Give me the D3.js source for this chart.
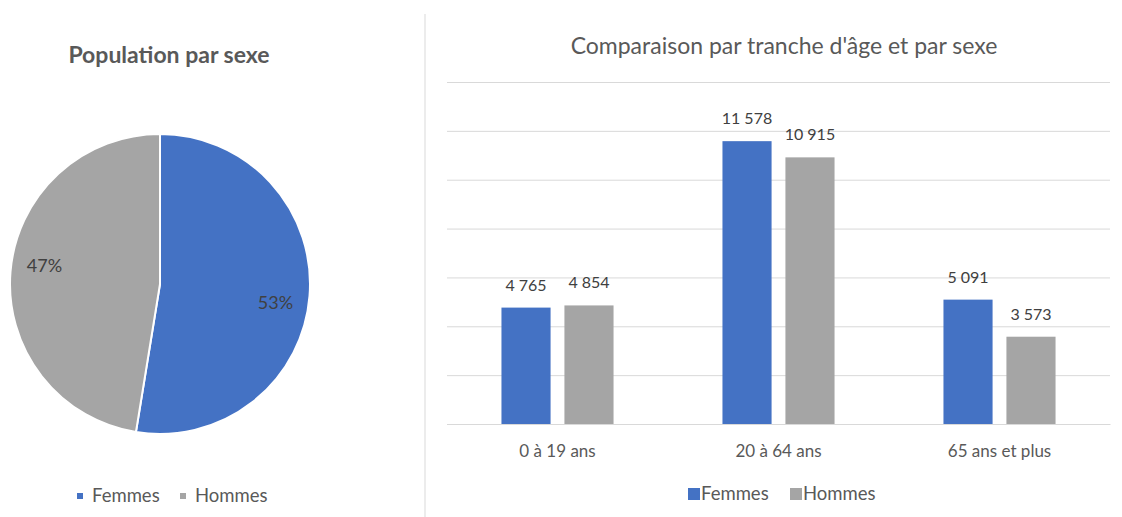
<!DOCTYPE html>
<html>
<head>
<meta charset="utf-8">
<script src="https://cdn.jsdelivr.net/npm/d3@7"></script>
<style>
  body { margin: 0; background: #fff; }
  svg { display: block; font-family: Lato, "Open Sans", sans-serif; }
</style>
</head>
<body>
<svg id="chart" width="1122" height="517"></svg>
<script>
// data
const ageGroups = ["0 à 19 ans", "20 à 64 ans", "65 ans et plus"];
const seriesNames = ["Femmes", "Hommes"];
const femmes = [4765, 11578, 5091];
const hommes = [4854, 10915, 3573];
const yTicks = [0, 2000, 4000, 6000, 8000, 10000, 12000, 14000];
const colors = ["#4472C4", "#A5A5A5"];

const svg = d3.select("#chart");
const fmt = v => d3.format(",")(v).replace(/,/g, "\u202f");

// separator between the two charts
svg.append("line")
  .attr("x1", 425).attr("x2", 425)
  .attr("y1", 14).attr("y2", 517)
  .attr("stroke", "#d9d9d9");

// ---------- pie: population par sexe ----------
const pieTotals = [d3.sum(femmes), d3.sum(hommes)];
const pieR = 150;
const pieG = svg.append("g").attr("transform", "translate(160,284)");

svg.append("text")
  .attr("x", 169).attr("y", 63)
  .attr("text-anchor", "middle")
  .attr("font-size", 23).attr("font-weight", "bold")
  .attr("fill", "#595959")
  .text("Population par sexe");

const pie = d3.pie().sort(null).value(d => d);
const arcs = pie(pieTotals);
const arc = d3.arc().innerRadius(0).outerRadius(pieR);
const labelArc = d3.arc().innerRadius(pieR * 0.78).outerRadius(pieR * 0.78);
const labelShift = 0.08; // excel nudges the labels a bit clockwise
const total = d3.sum(pieTotals);

pieG.selectAll("path")
  .data(arcs)
  .join("path")
  .attr("d", arc)
  .attr("fill", (d, i) => colors[i])
  .attr("stroke", "#fff")
  .attr("stroke-width", 2);

pieG.selectAll("text")
  .data(arcs)
  .join("text")
  .attr("transform", d => {
    const c = labelArc.centroid({ startAngle: d.startAngle + labelShift, endAngle: d.endAngle + labelShift });
    return `translate(${c})`;
  })
  .attr("dy", "0.35em")
  .attr("text-anchor", "middle")
  .attr("font-size", 18)
  .attr("fill", "#404040")
  .text(d => Math.round(d.data / total * 100) + "%");

// pie legend
const pieLegend = svg.append("g").attr("transform", "translate(77,496)");
const pieLegendX = [0, 103];
seriesNames.forEach((name, i) => {
  const g = pieLegend.append("g").attr("transform", `translate(${pieLegendX[i]},0)`);
  g.append("rect").attr("x", 0).attr("y", -3).attr("width", 6).attr("height", 6).attr("fill", colors[i]);
  g.append("text").attr("x", 15).attr("dy", "0.35em")
    .attr("font-size", 18.5).attr("fill", "#595959").text(name);
});

// ---------- grouped bars ----------
const plot = { left: 447, right: 1110, top: 82, bottom: 424 };

svg.append("text")
  .attr("x", 784).attr("y", 54)
  .attr("text-anchor", "middle")
  .attr("font-size", 23)
  .attr("fill", "#595959")
  .text("Comparaison par tranche d'âge et par sexe");

const x0 = d3.scaleBand().domain(ageGroups).range([plot.left, plot.right]);
const x1 = d3.scaleBand().domain(seriesNames).range([0, x0.bandwidth()])
  .paddingInner(0.22).paddingOuter(0.865);
const y = d3.scaleLinear().domain([0, 14000]).range([plot.bottom, plot.top]);

// gridlines
svg.append("g")
  .attr("transform", `translate(${plot.left},0)`)
  .call(d3.axisLeft(y).tickValues(yTicks).tickSize(-(plot.right - plot.left)).tickFormat(""))
  .call(g => g.select(".domain").remove())
  .call(g => g.selectAll("line").attr("stroke", "#d9d9d9"));

const rows = ageGroups.map((a, i) => ({ age: a, values: [femmes[i], hommes[i]] }));

const groups = svg.append("g").selectAll("g")
  .data(rows)
  .join("g")
  .attr("transform", d => `translate(${x0(d.age)},0)`);

groups.selectAll("rect")
  .data(d => d.values.map((v, i) => ({ key: seriesNames[i], value: v, i })))
  .join("rect")
  .attr("x", d => x1(d.key))
  .attr("y", d => y(d.value))
  .attr("width", x1.bandwidth())
  .attr("height", d => y(0) - y(d.value))
  .attr("fill", d => colors[d.i]);

groups.selectAll("text")
  .data(d => d.values.map((v, i) => ({ key: seriesNames[i], value: v, i })))
  .join("text")
  .attr("x", d => x1(d.key) + x1.bandwidth() / 2)
  .attr("y", d => y(d.value) - 17)
  .attr("text-anchor", "middle")
  .attr("font-size", 16)
  .attr("fill", "#404040")
  .text(d => fmt(d.value));

// x axis
svg.append("g")
  .attr("transform", `translate(0,${plot.bottom})`)
  .call(d3.axisBottom(x0).tickSize(0).tickPadding(21))
  .call(g => g.select(".domain").attr("stroke", "#d9d9d9"))
  .call(g => g.selectAll("text").attr("font-size", 17).attr("fill", "#595959").attr("font-family", "Lato, 'Open Sans', sans-serif"));

// bar legend
const barLegend = svg.append("g").attr("transform", "translate(688,494)");
const barLegendX = [0, 102];
seriesNames.forEach((name, i) => {
  const g = barLegend.append("g").attr("transform", `translate(${barLegendX[i]},0)`);
  g.append("rect").attr("x", 0).attr("y", -6).attr("width", 12).attr("height", 12).attr("fill", colors[i]);
  g.append("text").attr("x", 13).attr("dy", "0.35em")
    .attr("font-size", 18.5).attr("fill", "#595959").text(name);
});
</script>
</body>
</html>
